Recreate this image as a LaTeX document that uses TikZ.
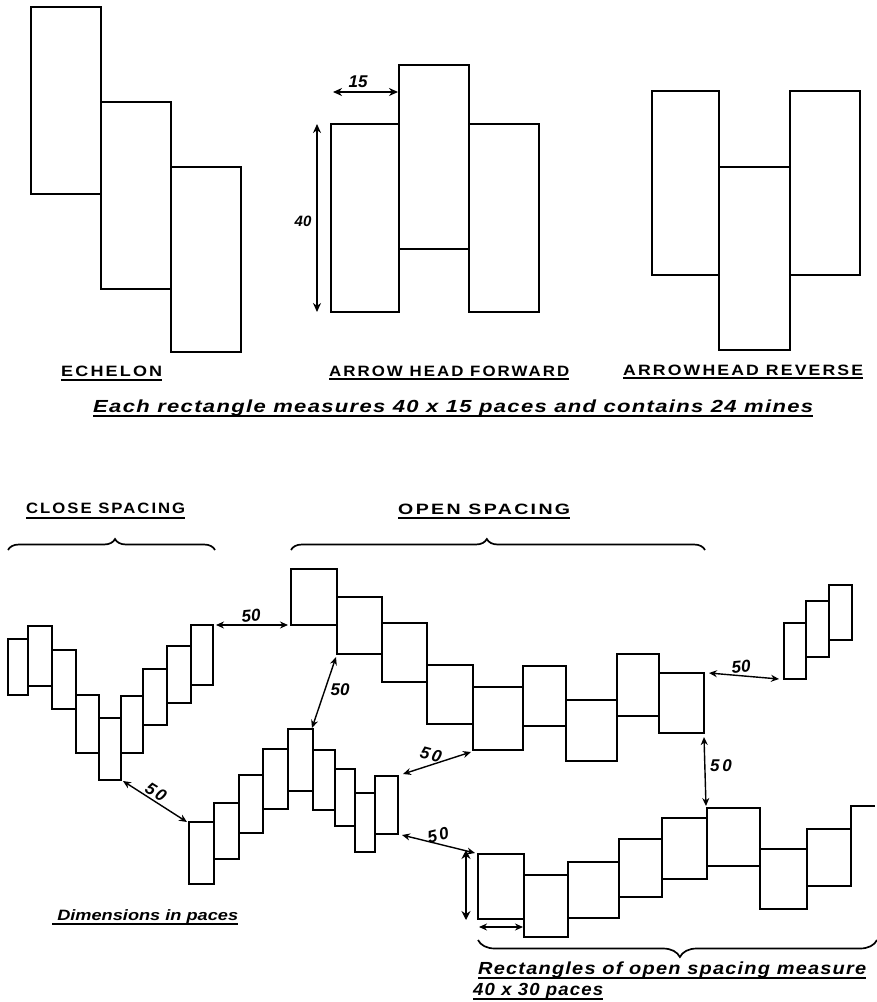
\documentclass[tikz,border=0pt]{standalone}
\usepackage{fontspec}
\setmainfont{Liberation Sans}
\usetikzlibrary{arrows.meta,decorations.pathreplacing}
\tikzset{
 rctbox/.style={draw=black,line width=2.1pt,inner sep=0pt,outer sep=0pt,line join=miter},
 dimline/.style={line width=1.4pt,{Stealth[length=8pt,width=7pt]}-{Stealth[length=8pt,width=7pt]}},
 topdim/.style={line width=2.2pt,{Stealth[length=9pt,width=8pt]}-{Stealth[length=9pt,width=8pt]}},
 thickdim/.style={line width=2.6pt,{Stealth[length=9pt,width=9pt]}-{Stealth[length=9pt,width=9pt]}},
 bracel/.style={line width=1.7pt,decorate},
 ulined/.style={line width=2pt},
 numlab/.style={font=\fontsize{17}{17}\selectfont\bfseries\itshape,inner sep=0pt},
 handtxt/.style={inner sep=0pt,anchor=base west},
}
\newcommand{\rct}[5]{\pgfmathsetmacro\rw{#4-#2}\pgfmathsetmacro\rh{#5-#3}%
 \node[rctbox,minimum width=\rw pt,minimum height=\rh pt,anchor=north west] (#1) at (#2,#3) {};}
% name, x1, x2, baseline y, underline y, font, text
\newcommand{\hand}[7]{\pgfmathsetmacro\tw{#3-#2}%
 \node[handtxt] (#1) at (#2,#4) {\resizebox{\tw pt}{\height}{#6 #7}};
 \coordinate (#1u1) at (#2,#5); \coordinate (#1u2) at (#3,#5);
 \draw[ulined] (#1u1) -- (#1u2);}
\newcommand{\capsf}{\fontsize{15}{16}\selectfont\bfseries\addfontfeatures{LetterSpace=12}}
\newcommand{\itf}{\fontsize{17.5}{18}\selectfont\bfseries\itshape\addfontfeatures{LetterSpace=6}}
\newcommand{\fiftyspaced}{5\kern2.5pt 0}
\begin{document}
\begin{tikzpicture}[x=1pt,y=-1pt]
\useasboundingbox (0,0) rectangle (877,1002);
\fill[white] (0,0) rectangle (877,1002);
% top formations
\begin{scope}[rctbox/.append style={line width=2.7pt}]
\rct{e1}{31}{7}{101}{194}
\rct{e2}{101}{102}{171}{289}
\rct{e3}{171}{167}{241}{352}
\rct{f1}{331}{124}{399}{312}
\rct{f2}{399}{65}{469}{249}
\rct{f3}{469}{124}{539}{312}
\rct{r1}{652}{91}{719}{275}
\rct{r2}{719}{167}{790}{350}
\rct{r3}{790}{91}{860}{275}
\end{scope}
\coordinate (d15a) at (333,92); \coordinate (d15b) at (398,92);
\coordinate (d40a) at (317,124); \coordinate (d40b) at (317,312);
\draw[topdim] (d15a) -- (d15b);
\draw[topdim] (d40a) -- (d40b);
\node[numlab] (l15) at (358,82) {15};
\node[numlab,font=\fontsize{15}{15}\selectfont\bfseries\itshape] (l40) at (303,221) {40};
% captions
\hand{tec}{61}{162}{376}{380}{\capsf}{ECHELON}
\hand{taf}{329}{569}{376}{379}{\capsf}{ARROW HEAD FORWARD}
\hand{tar}{623}{863}{375}{378}{\capsf}{ARROWHEAD REVERSE}
\hand{tea}{93}{813}{412}{416}{\itf}{Each rectangle measures 40 x 15 paces and contains 24 mines}
\hand{tcs}{26}{185}{513}{518}{\capsf}{CLOSE SPACING}
\hand{tos}{398}{570}{514}{518}{\capsf}{OPEN SPACING}
% close spacing group
\rct{a1}{8}{639}{28}{695}
\rct{a2}{28}{626}{52}{686}
\rct{a3}{52}{650}{76}{709}
\rct{a4}{76}{695}{99}{753}
\rct{a5}{99}{718}{121}{780}
\rct{a6}{121}{696}{143}{753}
\rct{a7}{143}{669}{167}{725}
\rct{a8}{167}{646}{191}{703}
\rct{a9}{191}{625}{213}{685}
% open spacing upper group
\rct{b1}{291}{569}{337}{625}
\rct{b2}{337}{597}{382}{654}
\rct{b3}{382}{623}{427}{682}
\rct{b4}{427}{665}{473}{724}
\rct{b5}{473}{687}{523}{750}
\rct{b6}{523}{666}{566}{726}
\rct{b7}{566}{700}{617}{761}
\rct{b8}{617}{654}{659}{716}
\rct{b9}{659}{673}{704}{733}
% lower middle group
\rct{c1}{189}{822}{214}{884}
\rct{c2}{214}{803}{239}{859}
\rct{c3}{239}{775}{263}{833}
\rct{c4}{263}{749}{288}{809}
\rct{c5}{288}{729}{313}{791}
\rct{c6}{313}{750}{335}{810}
\rct{c7}{335}{769}{355}{826}
\rct{c8}{355}{793}{375}{852}
\rct{c9}{375}{776}{398}{834}
% lower right group
\rct{d1}{478}{854}{524}{919}
\rct{d2}{524}{875}{568}{937}
\rct{d3}{568}{862}{619}{918}
\rct{d4}{619}{839}{662}{897}
\rct{d5}{662}{818}{707}{879}
\rct{d6}{707}{808}{760}{866}
\rct{d7}{760}{849}{807}{909}
\rct{d8}{807}{829}{851}{886}
\coordinate (d9a) at (851,806); \coordinate (d9b) at (875,806);
\draw[line width=2.1pt] (d8.north east) -- (d9a) -- (d9b);
% far right group
\rct{g1}{784}{623}{806}{679}
\rct{g2}{806}{601}{829}{657}
\rct{g3}{829}{585}{852}{640}
% braces
\coordinate (bc1) at (8,550); \coordinate (bc2) at (215,550);
\coordinate (bo1) at (291,550); \coordinate (bo2) at (705,550);
\coordinate (br1) at (478,940); \coordinate (br2) at (877,940);
\draw[bracel,decoration={brace,amplitude=11pt,aspect=.517}] (bc1) -- (bc2);
\draw[bracel,decoration={brace,amplitude=11pt,aspect=.473}] (bo1) -- (bo2);
\draw[bracel,decoration={brace,mirror,amplitude=17pt,aspect=.506}] (br1) -- (br2);
% spacing arrows
\coordinate (p1) at (216,625); \coordinate (p2) at (288,625);
\draw[dimline] (p1) -- (p2);
\node[numlab,rotate=5] (n1) at (251,616) {50};
\coordinate (p3) at (123,781); \coordinate (p4) at (187,822);
\draw[dimline] (p3) -- (p4);
\node[numlab,rotate=-32] (n2) at (156,792) {\fiftyspaced};
\coordinate (p5) at (336,657); \coordinate (p6) at (312,728);
\draw[dimline] (p5) -- (p6);
\node[numlab] (n3) at (340,690) {50};
\coordinate (p7) at (403,774); \coordinate (p8) at (471,752);
\draw[dimline] (p7) -- (p8);
\node[numlab,rotate=-15] (n4) at (431,755) {\fiftyspaced};
\coordinate (p9) at (402,835); \coordinate (p10) at (475,853);
\draw[dimline] (p9) -- (p10);
\node[numlab,rotate=14] (n5) at (438,835) {\fiftyspaced};
\coordinate (p11) at (709,673); \coordinate (p12) at (779,679);
\draw[dimline] (p11) -- (p12);
\node[numlab,rotate=5] (n6) at (741,667) {50};
\coordinate (p13) at (704,737); \coordinate (p14) at (706,806);
\draw[dimline] (p13) -- (p14);
\node[numlab] (n7) at (721,766) {5\,0};
\coordinate (p15) at (466,850); \coordinate (p16) at (466,920);
\draw[thickdim] (p15) -- (p16);
\coordinate (p17) at (479,927); \coordinate (p18) at (523,927);
\draw[dimline] (p17) -- (p18);
% notes
\hand{tdim}{52}{238}{920}{924}{\fontsize{15}{16}\selectfont\bfseries\itshape}{Dimensions in paces}
\hand{trec}{478}{866}{974}{978}{\itf}{Rectangles of open spacing measure}
\hand{trec2}{473}{603}{995}{999}{\itf}{40 x 30 paces}
\end{tikzpicture}
\end{document}
